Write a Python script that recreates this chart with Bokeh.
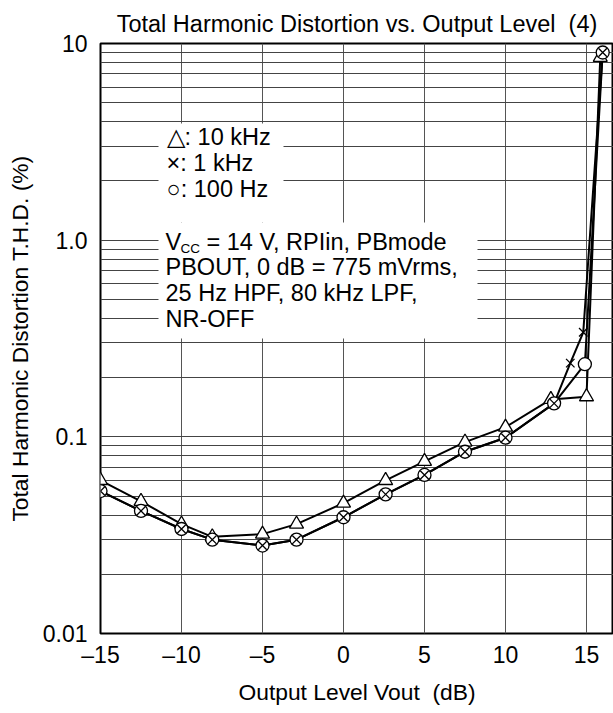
from bokeh.plotting import figure
from bokeh.models import FixedTicker, Label, BoxAnnotation, Range1d
from bokeh.embed import file_html
from bokeh.resources import INLINE

# ---------------- data ----------------
x_10k = [-15, -12.5, -10, -8.1, -5, -2.9, 0, 2.6, 5, 7.5, 10, 12.8, 15, 15.85]
thd_10k = [0.060, 0.047, 0.036, 0.031, 0.032, 0.036, 0.046, 0.060, 0.075, 0.094, 0.112, 0.155, 0.160, 8.5]

x_1k = [-15, -12.5, -10, -8.1, -5, -2.9, 0, 2.6, 5, 7.5, 10, 13.0, 14.0, 14.8, 16.0]
thd_1k = [0.053, 0.042, 0.034, 0.030, 0.028, 0.030, 0.039, 0.051, 0.064, 0.084, 0.099, 0.148, 0.237, 0.34, 9.0]

x_100 = [-15, -12.5, -10, -8.1, -5, -2.9, 0, 2.6, 5, 7.5, 10, 13.0, 14.9, 16.0]
thd_100 = [0.053, 0.042, 0.034, 0.030, 0.028, 0.030, 0.039, 0.051, 0.064, 0.084, 0.099, 0.148, 0.234, 9.0]

x_ticks = [-15, -10, -5, 0, 5, 10, 15]
x_tick_labels = ["\u201315", "\u201310", "\u20135", "0", "5", "10", "15"]
y_ticks = [0.01, 0.1, 1, 10]
y_tick_labels = ["0.01", "0.1", "1.0", "10"]

title_text = "Total Harmonic Distortion vs. Output Level \u00a0(4)"
x_title = "Output Level Vout \u00a0(dB)"
y_title = "Total Harmonic Distortion T.H.D. (%)"
legend_lines = ["\u25b3: 10 kHz", "\u00d7: 1 kHz", "\u25cb: 100 Hz"]
cond_first_rest = "= 14 V, RPIin, PBmode"
cond_lines = ["PBOUT, 0 dB = 775 mVrms,", "25 Hz HPF, 80 kHz LPF,", "NR-OFF"]

# ---------------- layout ----------------
FONT = "Liberation Sans"
W, H = 613, 713
X_MIN, X_MAX = -15, 16.667
FL, FR, FT, FB = 100, 613, 43, 633          # frame edges in figure pixels
PX_PER_X = (FR - FL) / (X_MAX - X_MIN)
PX_PER_DEC = (FB - FT) / 3.0


def px2x(px):
    return X_MIN + (px - FL) / PX_PER_X


def py2y(py):
    return 10 ** ((FB - py) / PX_PER_DEC - 2)


p = figure(width=W, height=H, x_range=Range1d(X_MIN, X_MAX), y_range=Range1d(0.01, 10),
           y_axis_type="log", output_backend="svg", toolbar_location=None,
           min_border_left=FL, min_border_right=W - FR, min_border_top=FT,
           min_border_bottom=H - FB)

p.background_fill_color = "white"
p.border_fill_color = "white"
p.outline_line_color = "black"
p.outline_line_width = 2

# title
p.title.text = title_text
p.title.align = "center"
p.title.text_font = FONT
p.title.text_font_size = "23.5px"
p.title.text_font_style = "normal"
p.title.text_color = "black"
p.title.standoff = 13

# axes
minor = [m * 10.0 ** e for e in (-2, -1, 0) for m in range(2, 10)]
p.xaxis.ticker = FixedTicker(ticks=x_ticks)
p.xaxis.major_label_overrides = dict(zip(x_ticks, x_tick_labels))
p.yaxis.ticker = FixedTicker(ticks=y_ticks, minor_ticks=minor)
p.yaxis.major_label_overrides = dict(zip(y_ticks, y_tick_labels))

for ax in (p.xaxis[0], p.yaxis[0]):
    ax.axis_line_color = None
    ax.major_tick_line_color = None
    ax.minor_tick_line_color = None
    ax.major_tick_out = 0
    ax.major_tick_in = 0
    ax.minor_tick_out = 0
    ax.minor_tick_in = 0
    ax.major_label_text_font = FONT
    ax.major_label_text_font_size = "23px"
    ax.major_label_text_color = "black"
    ax.axis_label_text_font = FONT
    ax.axis_label_text_font_size = "22.8px"
    ax.axis_label_text_font_style = "normal"
    ax.axis_label_text_color = "black"

p.xaxis.axis_label = x_title
p.yaxis.axis_label = y_title
p.xaxis.major_label_standoff = 8
p.xaxis.axis_label_standoff = 8
p.yaxis.major_label_standoff = 13
p.yaxis.axis_label_standoff = 7

# grid
p.xgrid.grid_line_color = "#555555"
p.xgrid.grid_line_width = 1
p.ygrid.grid_line_color = "#444444"
p.ygrid.grid_line_width = 1
p.ygrid.minor_grid_line_color = "#444444"
p.ygrid.minor_grid_line_width = 1

# white backgrounds behind the annotation text blocks
p.add_layout(BoxAnnotation(left=px2x(158), right=px2x(283), top=py2y(123), bottom=py2y(222),
                           fill_color="white", fill_alpha=1, line_color=None))
p.add_layout(BoxAnnotation(left=px2x(158), right=px2x(477), top=py2y(222), bottom=py2y(338),
                           fill_color="white", fill_alpha=1, line_color=None))

# data lines
LW = 2
p.line(x_10k, thd_10k, line_color="black", line_width=LW)
p.line(x_1k, thd_1k, line_color="black", line_width=LW)
p.line(x_100, thd_100, line_color="black", line_width=LW)

# markers
p.scatter(x_10k, thd_10k, marker="triangle", size=14, fill_color="white",
          line_color="black", line_width=1.3)
p.scatter(x_100, thd_100, marker="circle", size=13, fill_color="white",
          line_color="black", line_width=1.3)
p.scatter(x_1k, thd_1k, marker="x", size=12, line_color="black", line_width=1.3)

# legend text
TXT = "23.5px"
for i, t in enumerate(legend_lines):
    p.add_layout(Label(x=px2x(166), y=py2y(136.7 + 26 * i), text=t, text_baseline="middle",
                       text_font=FONT, text_font_size=TXT, text_color="black"))

# conditions text
p.add_layout(Label(x=px2x(165), y=py2y(241.5), text="V", text_baseline="middle",
                   text_font=FONT, text_font_size=TXT, text_color="black"))
p.add_layout(Label(x=px2x(180), y=py2y(248), text="CC", text_baseline="middle",
                   text_font=FONT, text_font_size="13.5px", text_color="black"))
p.add_layout(Label(x=px2x(206), y=py2y(241.5), text=cond_first_rest, text_baseline="middle",
                   text_font=FONT, text_font_size=TXT, text_color="black"))
for i, t in enumerate(cond_lines):
    p.add_layout(Label(x=px2x(165), y=py2y(266.9 + 25.8 * i), text=t, text_baseline="middle",
                       text_font=FONT, text_font_size=TXT, text_color="black"))

open("out.html", "w").write(file_html(p, INLINE))
